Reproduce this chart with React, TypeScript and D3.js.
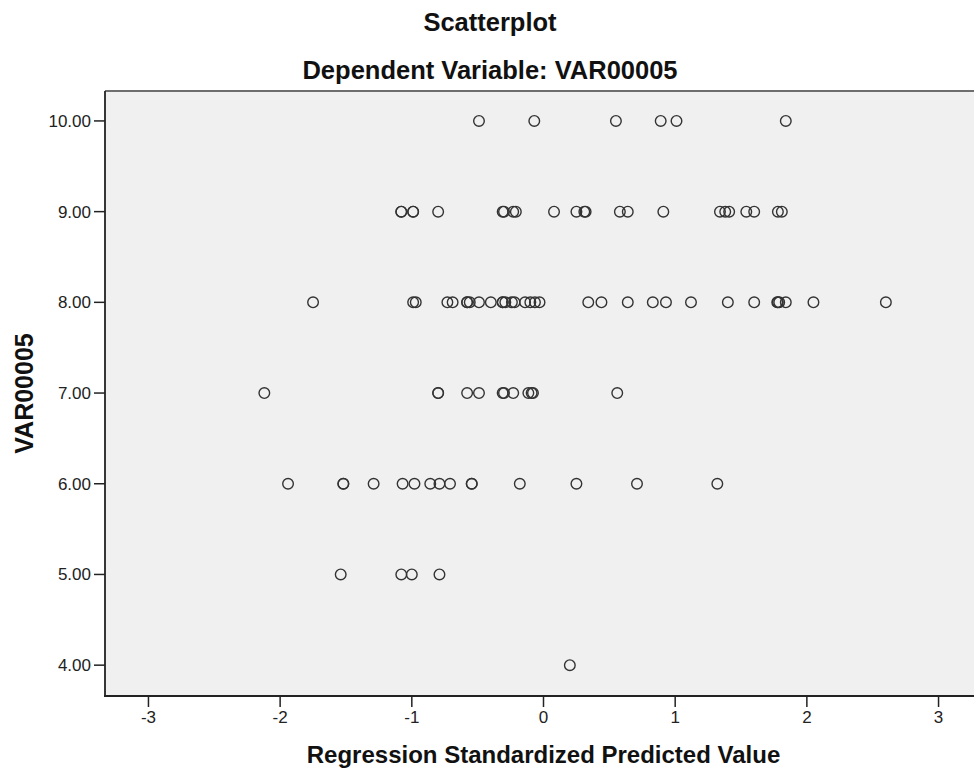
import React from "react";
import * as d3 from "d3";

// Predicted values (x) grouped by observed VAR00005 value (y)
const yLevels = [10, 9, 8, 7, 6, 5, 4];
const predAt10 = [-0.49, -0.07, 0.55, 0.89, 1.01, 1.84];
const predAt9 = [-1.08, -1.08, -0.99, -0.99, -0.8, -0.31, -0.3, -0.23, -0.21, 0.08, 0.25, 0.31, 0.32, 0.58, 0.64, 0.91, 1.34, 1.38, 1.41, 1.54, 1.6, 1.78, 1.81];
const predAt8 = [-1.75, -0.99, -0.97, -0.73, -0.69, -0.58, -0.58, -0.56, -0.49, -0.4, -0.31, -0.31, -0.29, -0.24, -0.22, -0.14, -0.1, -0.065, -0.03, 0.34, 0.44, 0.64, 0.83, 0.93, 1.12, 1.4, 1.6, 1.775, 1.78, 1.79, 1.84, 2.05, 2.6];
const predAt7 = [-2.12, -0.8, -0.8, -0.58, -0.49, -0.31, -0.3, -0.23, -0.115, -0.09, -0.08, 0.56];
const predAt6 = [-1.94, -1.52, -1.52, -1.29, -1.07, -0.98, -0.86, -0.79, -0.71, -0.545, -0.545, -0.18, 0.25, 0.71, 1.32];
const predAt5 = [-1.54, -1.08, -1.0, -0.79];
const predAt4 = [0.2];
const groups = [predAt10, predAt9, predAt8, predAt7, predAt6, predAt5, predAt4];

const xTicks = [-3, -2, -1, 0, 1, 2, 3];
const yTicks = [4, 5, 6, 7, 8, 9, 10];

const title = "Scatterplot";
const subtitle = "Dependent Variable: VAR00005";
const xTitle = "Regression Standardized Predicted Value";
const yTitle = "VAR00005";

export default function App() {
  React.useEffect(() => {
    document.body.style.margin = "0";
  }, []);

  const W = 974;
  const H = 773;
  const left = 105;
  const right = 982;
  const top = 91;
  const bottom = 696;

  const x = d3.scaleLinear().domain([-3.33, 3.33]).range([left, right]);
  const y = d3.scaleLinear().domain([3.66, 10.33]).range([bottom, top]);

  const points: { px: number; py: number }[] = [];
  groups.forEach((arr, i) => {
    arr.forEach((v) => points.push({ px: x(v), py: y(yLevels[i]) }));
  });

  const font = "'Liberation Sans', Arial, sans-serif";

  return (
    <svg width={W} height={H} style={{ display: "block", background: "#fff" }} fontFamily={font}>
      <rect x={left} y={top} width={right - left} height={bottom - top} fill="#f0f0f0" />
      <line x1={left} x2={right} y1={top} y2={top} stroke="#6e6e6e" strokeWidth={2} />
      {points.map((p, i) => (
        <circle key={i} cx={p.px} cy={p.py} r={5.3} fill="none" stroke="#333" strokeWidth={1.4} />
      ))}
      {/* axes */}
      <line x1={left} x2={left} y1={top} y2={bottom + 1} stroke="#222" strokeWidth={1.8} />
      <line x1={left - 1} x2={right} y1={bottom} y2={bottom} stroke="#222" strokeWidth={1.8} />
      {yTicks.map((t) => (
        <g key={"y" + t}>
          <line x1={left - 11} x2={left} y1={y(t)} y2={y(t)} stroke="#222" strokeWidth={1.5} />
          <text x={left - 14} y={y(t)} dy="0.35em" textAnchor="end" fontSize={17} fill="#222">
            {t.toFixed(2)}
          </text>
        </g>
      ))}
      {xTicks.map((t) => (
        <g key={"x" + t}>
          <line x1={x(t)} x2={x(t)} y1={bottom} y2={bottom + 11} stroke="#222" strokeWidth={1.5} />
          <text x={x(t)} y={723} textAnchor="middle" fontSize={17} fill="#222">
            {t}
          </text>
        </g>
      ))}
      <text x={490} y={31} textAnchor="middle" fontSize={25.5} fontWeight="bold" fill="#111">
        {title}
      </text>
      <text x={490} y={79} textAnchor="middle" fontSize={25.5} fontWeight="bold" fill="#111">
        {subtitle}
      </text>
      <text x={543.5} y={763} textAnchor="middle" fontSize={24} fontWeight="bold" fill="#111">
        {xTitle}
      </text>
      <text
        transform={`translate(33, ${(top + bottom) / 2}) rotate(-90)`}
        textAnchor="middle"
        fontSize={25}
        fontWeight="bold"
        fill="#111"
      >
        {yTitle}
      </text>
    </svg>
  );
}
